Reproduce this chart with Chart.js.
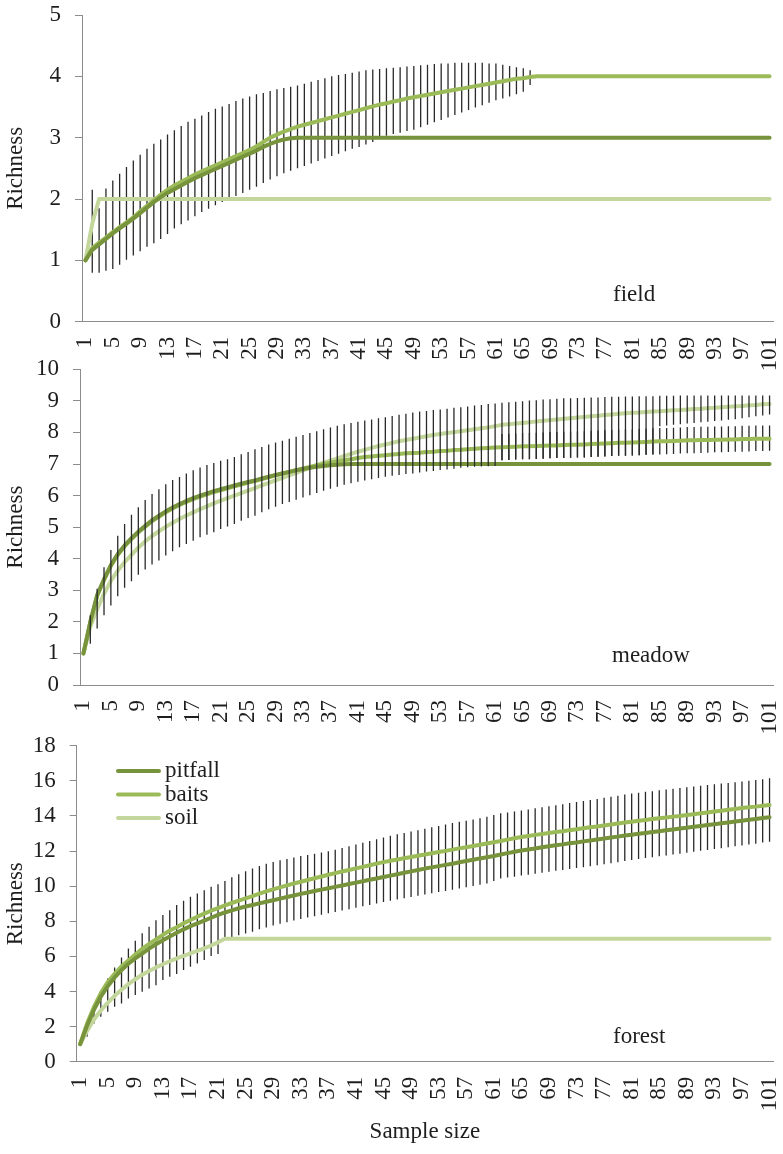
<!DOCTYPE html>
<html><head><meta charset="utf-8">
<script src="https://cdn.jsdelivr.net/npm/chart.js@4.4.1/dist/chart.umd.min.js"></script>
<style>
html,body{margin:0;padding:0;background:#fff;}
#wrap{position:relative;width:783px;height:1154px;background:#fff;}
canvas{position:absolute;left:0;top:0;}
</style></head><body>
<div id="wrap">
<canvas id="c1" width="783" height="1154"></canvas>
<canvas id="c2" width="783" height="1154"></canvas>
<canvas id="c3" width="783" height="1154"></canvas>
</div>
<script>
const sampleSize = [1,2,3,4,5,6,7,8,9,10,11,12,13,14,15,16,17,18,19,20,21,22,23,24,25,26,27,28,29,30,31,32,33,34,35,36,37,38,39,40,41,42,43,44,45,46,47,48,49,50,51,52,53,54,55,56,57,58,59,60,61,62,63,64,65,66,67,68,69,70,71,72,73,74,75,76,77,78,79,80,81,82,83,84,85,86,87,88,89,90,91,92,93,94,95,96,97,98,99,100,101];
const seriesNames = ['pitfall','baits','soil'];

// ---------- field ----------
const fieldPitfall = [
1.00,1.17,1.26,1.35,1.44,1.52,1.60,1.68,1.77,1.86,
1.95,2.03,2.10,2.16,2.22,2.28,2.34,2.39,2.44,2.49,
2.54,2.59,2.64,2.69,2.74,2.79,2.85,2.90,2.94,2.97,
2.99,3,3,3,3,3,3,3,3,3,
3,3,3,3,3,3,3,3,3,3,
3,3,3,3,3,3,3,3,3,3,
3,3,3,3,3,3,3,3,3,3,
3,3,3,3,3,3,3,3,3,3,
3,3,3,3,3,3,3,3,3,3,
3,3,3,3,3,3,3,3,3,3,
3];
const fieldBaits = [
1.00,1.20,1.29,1.37,1.46,1.54,1.62,1.70,1.80,1.89,
1.98,2.07,2.15,2.22,2.28,2.34,2.40,2.45,2.50,2.55,
2.60,2.65,2.70,2.75,2.80,2.86,2.93,3.00,3.05,3.10,
3.14,3.18,3.21,3.24,3.27,3.30,3.33,3.36,3.39,3.42,
3.45,3.48,3.51,3.54,3.56,3.59,3.61,3.64,3.66,3.68,
3.70,3.72,3.74,3.76,3.78,3.80,3.82,3.84,3.86,3.88,
3.90,3.92,3.94,3.96,3.97,3.99,4,4,4,4,
4,4,4,4,4,4,4,4,4,4,
4,4,4,4,4,4,4,4,4,4,
4,4,4,4,4,4,4,4,4,4,
4];
const fieldSoil = [
1.00,1.60,2,2,2,2,2,2,2,2,
2,2,2,2,2,2,2,2,2,2,
2,2,2,2,2,2,2,2,2,2,
2,2,2,2,2,2,2,2,2,2,
2,2,2,2,2,2,2,2,2,2,
2,2,2,2,2,2,2,2,2,2,
2,2,2,2,2,2,2,2,2,2,
2,2,2,2,2,2,2,2,2,2,
2,2,2,2,2,2,2,2,2,2,
2,2,2,2,2,2,2,2,2,2,
2];
const fieldBarHigh = [
null,2.15,1.85,2.17,2.30,2.41,2.52,2.63,2.72,2.82,
2.90,2.97,3.05,3.12,3.19,3.26,3.31,3.36,3.42,3.47,
3.51,3.55,3.60,3.64,3.67,3.71,3.73,3.76,3.79,3.81,
3.83,3.85,3.88,3.91,3.94,3.97,4.00,4.02,4.04,4.06,
4.08,4.10,4.11,4.12,4.13,4.14,4.15,4.16,4.17,4.18,
4.19,4.20,4.21,4.21,4.22,4.22,4.22,4.22,4.22,4.21,
4.21,4.19,4.17,4.15,4.13,4.10,null,null,null,null,
null,null,null,null,null,null,null,null,null,null,
null,null,null,null,null,null,null,null,null,null,
null,null,null,null,null,null,null,null,null,null,
null];
const fieldBarLow = [
null,0.80,0.80,0.83,0.86,0.93,1.01,1.08,1.15,1.22,
1.28,1.35,1.43,1.52,1.59,1.65,1.72,1.79,1.84,1.90,
1.95,2.00,2.05,2.10,2.15,2.20,2.26,2.32,2.37,2.42,
2.46,2.50,2.54,2.58,2.62,2.66,2.70,2.74,2.78,2.82,
2.85,2.89,2.93,2.98,3.03,3.06,3.08,3.11,3.13,3.17,
3.21,3.25,3.29,3.33,3.37,3.41,3.45,3.49,3.53,3.57,
3.61,3.64,3.67,3.71,3.75,3.86,null,null,null,null,
null,null,null,null,null,null,null,null,null,null,
null,null,null,null,null,null,null,null,null,null,
null,null,null,null,null,null,null,null,null,null,
null];

// ---------- meadow ----------
const meadowPitfall = [
1.00,2.00,2.85,3.35,3.80,4.15,4.42,4.65,4.86,5.04,
5.22,5.36,5.50,5.62,5.73,5.83,5.92,6.00,6.07,6.14,
6.20,6.26,6.32,6.38,6.43,6.48,6.54,6.60,6.65,6.70,
6.75,6.80,6.84,6.88,6.91,6.94,6.96,6.98,6.99,7,
7,7,7,7,7,7,7,7,7,7,
7,7,7,7,7,7,7,7,7,7,
7,7,7,7,7,7,7,7,7,7,
7,7,7,7,7,7,7,7,7,7,
7,7,7,7,7,7,7,7,7,7,
7,7,7,7,7,7,7,7,7,7,
7];
const meadowBaits = [
1.00,1.98,2.82,3.32,3.77,4.12,4.39,4.62,4.83,5.01,
5.19,5.33,5.47,5.59,5.70,5.80,5.89,5.97,6.04,6.11,
6.17,6.23,6.29,6.35,6.41,6.46,6.52,6.58,6.64,6.70,
6.75,6.80,6.86,6.91,6.96,7.00,7.04,7.08,7.12,7.15,
7.19,7.22,7.24,7.26,7.28,7.30,7.32,7.34,7.35,7.36,
7.38,7.39,7.41,7.42,7.44,7.45,7.47,7.48,7.50,7.51,
7.52,7.53,7.54,7.55,7.56,7.56,7.57,7.58,7.59,7.59,
7.60,7.61,7.61,7.62,7.63,7.64,7.65,7.66,7.67,7.67,
7.68,7.69,7.70,7.71,7.72,7.72,7.73,7.74,7.75,7.75,
7.76,7.76,7.77,7.77,7.78,7.78,7.79,7.79,7.80,7.80,
7.80];
const meadowSoil = [
1.00,1.85,2.40,2.89,3.30,3.62,3.89,4.12,4.35,4.55,
4.72,4.87,5.01,5.14,5.26,5.37,5.47,5.57,5.66,5.75,
5.84,5.92,6.00,6.08,6.16,6.24,6.32,6.40,6.48,6.56,
6.64,6.72,6.80,6.88,6.96,7.04,7.11,7.18,7.25,7.32,
7.39,7.45,7.51,7.57,7.62,7.67,7.72,7.76,7.80,7.84,
7.88,7.92,7.95,7.98,8.01,8.04,8.07,8.10,8.13,8.16,
8.20,8.24,8.26,8.28,8.30,8.32,8.35,8.37,8.39,8.41,
8.43,8.45,8.47,8.49,8.51,8.53,8.55,8.57,8.59,8.61,
8.62,8.63,8.65,8.66,8.67,8.69,8.70,8.71,8.73,8.74,
8.75,8.77,8.78,8.80,8.81,8.83,8.84,8.86,8.87,8.89,
8.90];
const meadowSoilBarHigh = [
null,2.21,3.05,3.73,4.28,4.73,5.10,5.39,5.63,5.86,
6.05,6.20,6.36,6.49,6.59,6.70,6.80,6.89,6.97,7.03,
7.10,7.15,7.22,7.31,7.38,7.47,7.54,7.62,7.68,7.74,
7.80,7.86,7.92,7.98,8.04,8.10,8.16,8.21,8.26,8.30,
8.34,8.38,8.41,8.45,8.48,8.52,8.56,8.59,8.63,8.66,
8.68,8.71,8.73,8.75,8.78,8.80,8.82,8.85,8.87,8.90,
8.92,8.94,8.96,8.97,8.99,9.01,9.02,9.04,9.05,9.07,
9.08,9.08,9.09,9.10,9.11,9.11,9.12,9.13,9.13,9.14,
9.14,9.15,9.15,9.15,9.16,9.16,9.16,9.17,9.17,9.17,
9.17,9.17,9.17,9.17,9.17,9.17,9.17,9.17,9.17,9.17,
9.17];
const meadowSoilBarLow = [
null,1.31,1.79,2.21,2.52,2.81,3.08,3.29,3.49,3.66,
3.82,3.94,4.10,4.24,4.36,4.47,4.57,4.68,4.76,4.84,
4.94,5.02,5.10,5.20,5.29,5.36,5.47,5.57,5.65,5.73,
5.80,5.87,5.94,6.01,6.08,6.15,6.22,6.28,6.34,6.39,
6.44,6.48,6.52,6.56,6.60,6.63,6.65,6.68,6.70,6.73,
6.76,6.78,6.81,6.83,6.85,6.88,6.90,6.91,6.92,6.93,
6.94,7.12,7.13,7.14,7.15,7.15,7.16,7.17,7.18,7.19,
7.19,7.20,7.21,7.21,7.22,7.23,7.24,7.25,7.26,7.26,
7.27,7.28,7.29,7.30,8.20,8.22,8.24,8.26,8.28,8.30,
8.32,8.34,8.36,8.38,8.40,8.42,8.45,8.48,8.51,8.54,
8.57];
const meadowBaitsBarLow = [
null,null,null,null,null,null,null,null,null,null,
null,null,null,null,null,null,null,null,null,null,
null,null,null,null,null,null,null,null,null,null,
null,null,null,null,null,null,null,null,null,null,
null,null,null,null,null,null,null,null,null,null,
null,null,null,null,null,null,null,null,null,null,
null,7.12,7.13,7.14,7.15,7.15,7.16,7.17,7.18,7.19,
7.19,7.20,7.21,7.21,7.22,7.23,7.24,7.25,7.26,7.26,
7.27,7.28,7.29,7.30,7.30,7.31,7.32,7.33,7.34,7.34,
7.35,7.36,7.37,7.37,7.38,7.39,7.39,7.40,7.41,7.41,
7.42];
const meadowBaitsBarHigh = [
null,null,null,null,null,null,null,null,null,null,
null,null,null,null,null,null,null,null,null,null,
null,null,null,null,null,null,null,null,null,null,
null,null,null,null,null,null,null,null,null,null,
null,null,null,null,null,null,null,null,null,null,
null,null,null,null,null,null,null,null,null,null,
null,7.95,7.96,7.97,7.98,7.98,7.99,8.00,8.01,8.01,
8.02,8.03,8.03,8.04,8.05,8.06,8.07,8.08,8.09,8.09,
8.10,8.11,8.12,8.13,8.14,8.14,8.15,8.16,8.17,8.17,
8.18,8.18,8.19,8.19,8.20,8.20,8.21,8.21,8.22,8.22,
8.22];

// ---------- forest ----------
const forestPitfall = [
1.00,2.05,2.95,3.70,4.30,4.80,5.22,5.58,5.88,6.16,
6.44,6.69,6.92,7.13,7.34,7.54,7.72,7.88,8.04,8.20,
8.36,8.50,8.62,8.74,8.84,8.93,9.02,9.11,9.20,9.29,
9.38,9.47,9.56,9.64,9.72,9.80,9.88,9.96,10.04,10.12,
10.20,10.28,10.36,10.44,10.52,10.60,10.68,10.76,10.84,10.92,
11.00,11.07,11.14,11.21,11.28,11.36,11.43,11.50,11.58,11.65,
11.72,11.80,11.88,11.96,12.03,12.09,12.15,12.21,12.27,12.33,
12.38,12.44,12.49,12.55,12.60,12.66,12.71,12.77,12.82,12.88,
12.93,12.98,13.03,13.08,13.13,13.18,13.23,13.28,13.33,13.38,
13.43,13.48,13.53,13.58,13.63,13.68,13.73,13.78,13.83,13.88,
13.93];
const forestBaits = [
1.00,2.17,3.12,3.91,4.54,5.01,5.43,5.77,6.11,6.43,
6.71,6.96,7.22,7.47,7.66,7.88,8.07,8.26,8.43,8.60,
8.75,8.90,9.04,9.17,9.30,9.43,9.57,9.70,9.82,9.93,
10.04,10.15,10.25,10.35,10.45,10.55,10.65,10.74,10.83,10.92,
11.01,11.10,11.19,11.28,11.37,11.45,11.52,11.59,11.66,11.73,
11.80,11.87,11.94,12.01,12.08,12.15,12.22,12.29,12.36,12.43,
12.50,12.57,12.65,12.73,12.80,12.86,12.92,12.97,13.03,13.08,
13.13,13.19,13.24,13.30,13.35,13.40,13.46,13.51,13.57,13.62,
13.67,13.72,13.77,13.82,13.87,13.91,13.96,14.00,14.05,14.10,
14.15,14.20,14.25,14.30,14.35,14.40,14.45,14.49,14.53,14.58,
14.62];
const forestSoil = [
1.00,1.75,2.40,2.92,3.35,3.75,4.10,4.42,4.70,4.95,
5.17,5.37,5.55,5.72,5.88,6.03,6.17,6.31,6.46,6.62,
6.80,7,7,7,7,7,7,7,7,7,
7,7,7,7,7,7,7,7,7,7,
7,7,7,7,7,7,7,7,7,7,
7,7,7,7,7,7,7,7,7,7,
7,7,7,7,7,7,7,7,7,7,
7,7,7,7,7,7,7,7,7,7,
7,7,7,7,7,7,7,7,7,7,
7,7,7,7,7,7,7,7,7,7,
7];
const forestBarHigh = [
null,2.28,3.17,4.04,4.74,5.37,5.94,6.45,6.89,7.31,
7.69,8.06,8.35,8.63,8.92,9.17,9.39,9.58,9.77,9.96,
10.11,10.30,10.50,10.68,10.85,11.00,11.15,11.28,11.38,11.47,
11.55,11.63,11.71,11.78,11.85,11.92,11.99,12.08,12.17,12.27,
12.37,12.47,12.57,12.67,12.77,12.87,12.95,13.03,13.11,13.19,
13.27,13.35,13.43,13.51,13.59,13.67,13.73,13.80,13.87,13.95,
14.05,14.15,14.20,14.25,14.31,14.37,14.43,14.49,14.55,14.61,
14.67,14.73,14.79,14.85,14.91,14.97,15.03,15.09,15.15,15.22,
15.28,15.32,15.37,15.41,15.46,15.50,15.55,15.59,15.63,15.68,
15.72,15.76,15.80,15.84,15.88,15.92,15.96,16.00,16.04,16.09,
16.14];
const forestBarLow = [
null,1.42,2.18,2.56,2.85,3.13,3.32,3.60,3.80,3.98,
4.17,4.36,4.65,4.84,4.99,5.22,5.41,5.60,5.79,6.02,
6.13,6.95,7.10,7.20,7.30,7.40,7.55,7.65,7.76,7.86,
7.95,8.04,8.13,8.21,8.29,8.37,8.45,8.53,8.61,8.69,
8.77,8.85,8.93,9.01,9.09,9.17,9.24,9.31,9.38,9.45,
9.52,9.59,9.66,9.73,9.80,9.87,9.94,10.01,10.08,10.15,
10.30,10.44,10.49,10.54,10.60,10.65,10.71,10.76,10.82,10.87,
10.92,10.98,11.03,11.08,11.14,11.19,11.25,11.30,11.36,11.43,
11.49,11.54,11.60,11.65,11.70,11.75,11.80,11.85,11.90,11.96,
12.01,12.06,12.11,12.16,12.22,12.27,12.32,12.37,12.42,12.48,
12.53];

const colors = { pitfall:'#77933C', baits:'#9BBB59', soil:'#C3D69B' };

Chart.defaults.font.family = "'Liberation Serif','Times New Roman',serif";
Chart.defaults.font.size = 23;
Chart.defaults.color = '#1e1e1e';

function drawBars(chart, onTop){
  const {ctx} = chart; const x = chart.scales.x, y = chart.scales.y;
  ctx.save();
  ctx.strokeStyle = '#2a2a2a'; ctx.lineWidth = 1.3;
  chart.data.datasets.forEach(ds => {
    if (!ds.errLow) return;
    if (!!ds.errOnTop !== onTop) return;
    ctx.beginPath();
    ds.errLow.forEach((lo, i) => {
      const hi = ds.errHigh[i];
      if (lo == null || hi == null) return;
      const px = x.getPixelForValue(i);
      ctx.moveTo(px, y.getPixelForValue(lo));
      ctx.lineTo(px, y.getPixelForValue(hi));
    });
    ctx.stroke();
  });
  ctx.restore();
}
const errorBarPlugin = {
  id:'errorBars',
  beforeDatasetsDraw(chart){ drawBars(chart,false); },
  afterDatasetsDraw(chart){ drawBars(chart,true); }
};
const panelLabelPlugin = {
  id:'panelLabel',
  afterDraw(chart, args, opts){
    if (!opts || !opts.text) return;
    const {ctx} = chart;
    ctx.save();
    ctx.font = "23px 'Liberation Serif', serif";
    ctx.fillStyle = '#1e1e1e';
    ctx.textAlign = 'left'; ctx.textBaseline = 'alphabetic';
    ctx.fillText(opts.text, opts.x, opts.y);
    ctx.restore();
  }
};
const lineLegendPlugin = {
  id:'lineLegend',
  afterDraw(chart, args, opts){
    if (!opts || !opts.show) return;
    const {ctx} = chart;
    ctx.save();
    ctx.font = "23px 'Liberation Serif', serif";
    chart.data.datasets.forEach((ds, k) => {
      const yy = opts.y + k*opts.gap;
      ctx.strokeStyle = ds.borderColor; ctx.lineWidth = 4; ctx.lineCap = 'round';
      ctx.beginPath(); ctx.moveTo(opts.x, yy); ctx.lineTo(opts.x + opts.len, yy); ctx.stroke();
      ctx.fillStyle = '#1e1e1e'; ctx.textAlign = 'left'; ctx.textBaseline = 'middle';
      ctx.fillText(ds.label, opts.x + opts.len + 6, yy);
    });
    ctx.restore();
  }
};

function makeDatasets(p, b, s, extra){
  const sets = [
    {label:seriesNames[0], data:p, borderColor:colors.pitfall},
    {label:seriesNames[1], data:b, borderColor:colors.baits},
    {label:seriesNames[2], data:s, borderColor:colors.soil}
  ];
  extra.forEach(e => Object.assign(sets[e.k], e.props));
  return sets;
}

function makePanel(id, cfg){
  return new Chart(document.getElementById(id), {
    type:'line',
    data:{ labels: sampleSize, datasets: cfg.datasets },
    options:{
      responsive:false, animation:false, events:[],
      layout:{ padding:{ top:cfg.top, right:10, left:0, bottom:cfg.padBottom } },
      plugins:{ legend:{display:false}, tooltip:{enabled:false},
        panelLabel: cfg.label, lineLegend: cfg.legend || {show:false} },
      elements:{ point:{radius:0}, line:{borderWidth:4, tension:0, borderCapStyle:'round', borderJoinStyle:'round', fill:false} },
      scales:{
        x:{ type:'category', offset:true,
            grid:{display:false, drawTicks:false},
            border:{display:true, color:'#8c8c8c', width:1},
            ticks:{ autoSkip:false, maxRotation:90, minRotation:90, padding:15,
                    callback:(v,i) => (i % 4 === 0 ? String(sampleSize[i]) : '') },
            title: cfg.xTitle ? {display:true, text:'Sample size', padding:{top:0,bottom:0}} : {display:false},
            afterFit(s){ s.height = cfg.xHeight; s.paddingLeft = 0; s.paddingRight = 0; } },
        y:{ min:0, max:cfg.ymax,
            ticks:{ stepSize:cfg.step, padding:14 },
            grid:{ drawOnChartArea:false, drawTicks:true, tickLength:7, color:'#8c8c8c' },
            border:{ display:true, color:'#8c8c8c', width:1 },
            title:{ display:true, text:'Richness', padding:{top:2,bottom:0} },
            afterFit(s){ s.width = cfg.left; s.paddingTop = 0; s.paddingBottom = 0; } }
      }
    },
    plugins:[errorBarPlugin, panelLabelPlugin, lineLegendPlugin]
  });
}

makePanel('c1', {
  datasets: makeDatasets(fieldPitfall, fieldBaits, fieldSoil, [
    {k:1, props:{errLow:fieldBarLow, errHigh:fieldBarHigh}}
  ]),
  top:15, padBottom:1154-321.7-64, xHeight:64, left:82, ymax:5, step:1,
  label:{text:'field', x:613, y:301}
});
makePanel('c2', {
  datasets: makeDatasets(meadowPitfall, meadowBaits, meadowSoil, [
    {k:1, props:{errLow:meadowBaitsBarLow, errHigh:meadowBaitsBarHigh}},
    {k:2, props:{errLow:meadowSoilBarLow, errHigh:meadowSoilBarHigh, errOnTop:true}}
  ]),
  top:369.3, padBottom:1154-685-64, xHeight:64, left:80, ymax:10, step:1,
  label:{text:'meadow', x:612, y:662}
});
makePanel('c3', {
  datasets: makeDatasets(forestPitfall, forestBaits, forestSoil, [
    {k:0, props:{errLow:forestBarLow, errHigh:forestBarHigh}}
  ]),
  top:745.7, padBottom:8.5, xHeight:83.8, xTitle:true, left:76.7, ymax:18, step:2,
  label:{text:'forest', x:613, y:1043},
  legend:{show:true, x:118, y:771, gap:23.5, len:41}
});
</script>
</body></html>
